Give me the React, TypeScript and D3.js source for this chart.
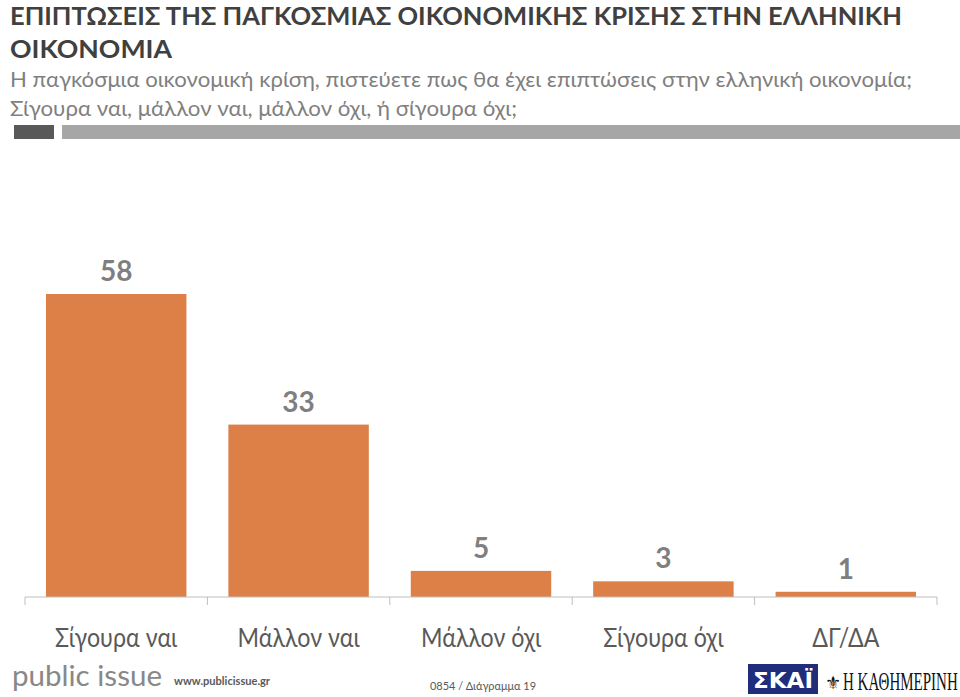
import React from "react";
import * as d3 from "d3";

const categories = ["Σίγουρα ναι", "Μάλλον ναι", "Μάλλον όχι", "Σίγουρα όχι", "ΔΓ/ΔΑ"];
const values = [58, 33, 5, 3, 1];
const titleLines = ["ΕΠΙΠΤΩΣΕΙΣ ΤΗΣ ΠΑΓΚΟΣΜΙΑΣ ΟΙΚΟΝΟΜΙΚΗΣ ΚΡΙΣΗΣ ΣΤΗΝ ΕΛΛΗΝΙΚΗ", "ΟΙΚΟΝΟΜΙΑ"];
const subtitleLines = [
  "Η παγκόσμια οικονομική κρίση, πιστεύετε πως θα έχει επιπτώσεις στην ελληνική οικονομία;",
  "Σίγουρα ναι, μάλλον ναι, μάλλον όχι, ή σίγουρα όχι;",
];

const W = 960;
const H = 697;
const axisY = 597;
const FONT = "Lato, 'Open Sans', sans-serif";

export default function App() {
  const x = d3.scaleBand<string>().domain(categories).range([25, 937]).paddingInner(0.23).paddingOuter(0.115);
  const y = d3.scaleLinear().domain([0, 58]).range([axisY, 294]);
  const step = (937 - 25) / categories.length;
  const tickXs = d3.range(categories.length + 1).map((i) => 25 + i * step);

  return (
    <svg width={W} height={H} style={{ position: "absolute", left: 0, top: 0, background: "#fff" }}>
      <rect x={0} y={0} width={W} height={H} fill="#fff" />
      {titleLines.map((t, i) => (
        <text key={t} x={10} y={25 + i * 33} fontFamily={FONT} fontWeight={700} fontSize={25} fill="#404040"
          textLength={i === 0 ? 892 : 162} lengthAdjust="spacingAndGlyphs">{t}</text>
      ))}
      {subtitleLines.map((t, i) => (
        <text key={t} x={10} y={87 + i * 29} fontFamily={FONT} fontSize={22} fill="#7f7f7f"
          textLength={i === 0 ? 902 : 507} lengthAdjust="spacingAndGlyphs">{t}</text>
      ))}
      <rect x={14} y={125} width={40} height={14} fill="#595959" />
      <rect x={62} y={125} width={898} height={14} fill="#a6a6a6" />

      {categories.map((c, i) => {
        const cx = (x(c) as number) + x.bandwidth() / 2;
        return (
          <g key={c}>
            <rect x={x(c)} y={y(values[i])} width={x.bandwidth()} height={axisY - y(values[i])} fill="#dd8047" />
            <text x={cx} y={y(values[i]) - 13} textAnchor="middle"
              fontFamily={FONT} fontWeight={700} fontSize={28} fill="#7f7f7f">{values[i]}</text>
            <g transform={`translate(${cx},647) scale(0.86,1)`}>
              <text x={0} y={0} textAnchor="middle" fontFamily={FONT} fontSize={27} fill="#595959">{c}</text>
            </g>
          </g>
        );
      })}
      <line x1={25} x2={937} y1={axisY} y2={axisY} stroke="#bfbfbf" strokeWidth={1} />
      {tickXs.map((tx, i) => (
        <line key={i} x1={tx} x2={tx} y1={axisY} y2={605} stroke="#bfbfbf" strokeWidth={1} />
      ))}

      <text x={12} y={686} fontFamily={FONT} fontSize={28} fill="#888"
        textLength={150} lengthAdjust="spacingAndGlyphs">public issue</text>
      <text x={174} y={685} fontFamily={FONT} fontWeight={700} fontSize={11} fill="#595959"
        textLength={96} lengthAdjust="spacingAndGlyphs">www.publicissue.gr</text>
      <text x={483} y={690} textAnchor="middle" fontFamily={FONT} fontSize={12} fill="#595959"
        textLength={106} lengthAdjust="spacingAndGlyphs">0854 / Διάγραμμα 19</text>

      <rect x={748} y={664} width={70} height={30} fill="#1f2d7a" />
      <text x={783} y={688} textAnchor="middle" fontFamily="'DejaVu Sans', sans-serif" fontWeight={700} fontSize={22} fill="#fff"
        textLength={60} lengthAdjust="spacingAndGlyphs">ΣΚΑΪ</text>
      <text x={825} y={689} fontFamily="'DejaVu Sans', serif" fontSize={18} fill="#111">⚜</text>
      <g transform="translate(843,690) scale(0.6,1)">
        <text x={0} y={0} fontFamily="'Liberation Serif', serif" fontSize={25} fill="#111">Η ΚΑΘΗΜΕΡΙΝΗ</text>
      </g>
    </svg>
  );
}
